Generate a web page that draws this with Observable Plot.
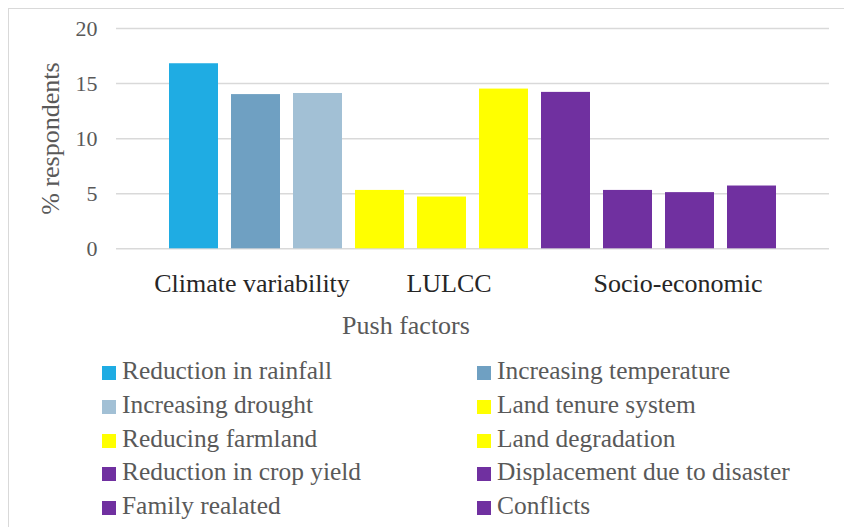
<!DOCTYPE html>
<html>
<head>
<meta charset="utf-8">
<script src="https://cdn.jsdelivr.net/npm/d3@7"></script>
<script src="https://cdn.jsdelivr.net/npm/@observablehq/plot@0.6"></script>
<style>
  html, body { margin: 0; padding: 0; background: #fff; overflow: hidden; }
  #frame {
    position: absolute; left: 8px; top: 8px; width: 900px; height: 600px;
    border-left: 1px solid #d9d9d9; border-top: 1px solid #d9d9d9;
    font-family: "Liberation Serif", "DejaVu Serif", serif;
  }
  #chart svg { display: block; }
  #legend-title {
    position: absolute; left: 0; top: 300px; width: 794px; height: 34px; line-height: 34px;
    text-align: center; font-size: 26px; color: #595959;
  }
  #legend {
    position: absolute; top: 344px; left: 0;
  }
  .item {
    position: absolute; height: 34px; line-height: 34px; font-size: 25.4px; color: #595959; white-space: nowrap;
  }
  .sw { display: inline-block; width: 14px; height: 14px; margin-right: 6px; vertical-align: -1px; }
</style>
</head>
<body>
<div id="frame">
  <div id="chart"></div>
  <div id="legend-title">Push factors</div>
  <div id="legend"></div>
</div>
<script>
const factors = [
  "Reduction in rainfall", "Increasing temperature", "Increasing drought",
  "Land tenure system", "Reducing farmland", "Land degradation",
  "Reduction in crop yield", "Displacement due to disaster", "Family realated", "Conflicts"
];
const values = [16.8, 14.0, 14.1, 5.3, 4.7, 14.5, 14.2, 5.3, 5.1, 5.7];
const colors = [
  "#1FACE3", "#6FA0C2", "#A2C0D5",
  "#FFFF00", "#FFFF00", "#FFFF00",
  "#7030A0", "#7030A0", "#7030A0", "#7030A0"
];
const groups = ["Climate variability", "LULCC", "Socio-economic"];
const groupAnchor = ["Increasing temperature", "Reducing farmland", "Family realated"];
const yTicks = [0, 5, 10, 15, 20];
const yTitle = "% respondents";
const legendTitle = "Push factors";

const data = factors.map((f, i) => ({factor: f, value: values[i], color: colors[i]}));

const groupMark = (i, dx) => Plot.text([groups[i]], {
  x: () => groupAnchor[i], frameAnchor: "bottom", dy: 35, dx,
  lineAnchor: "middle", textAnchor: "middle",
  fontSize: 26, fill: "#262626", fontFamily: "Liberation Serif"
});

const chart = Plot.plot({
  width: 835,
  height: 300,
  marginTop: 19,
  marginBottom: 60.7,
  marginLeft: 107,
  marginRight: 15,
  style: {fontFamily: "Liberation Serif, serif", background: "transparent"},
  x: {type: "band", domain: factors, paddingInner: 0.21, paddingOuter: 0.855, axis: null},
  y: {domain: [0, 20], ticks: yTicks, tickSize: 0, tickPadding: 19, label: null},
  marks: [
    Plot.gridY(yTicks, {stroke: "#d9d9d9", strokeOpacity: 1, strokeWidth: 1.5}),
    Plot.axisY(yTicks, {tickSize: 0, tickPadding: 19, fontSize: 22, color: "#595959", label: null}),
    Plot.barY(data, {x: "factor", y: "value", fill: "color"}),
    Plot.text([yTitle], {frameAnchor: "left", dx: -66, rotate: -90, fontSize: 26, fill: "#595959", textAnchor: "middle", lineAnchor: "middle"}),
    groupMark(0, -4),
    groupMark(1, 7),
    groupMark(2, -12)
  ]
});
document.getElementById("chart").appendChild(chart);

document.getElementById("legend-title").textContent = legendTitle;
const legend = document.getElementById("legend");
const colLeft = [93, 468];
factors.forEach((f, i) => {
  const row = Math.floor(i / 2), col = i % 2;
  const el = document.createElement("div");
  el.className = "item";
  el.style.left = colLeft[col] + "px";
  el.style.top = (row * 33.75) + "px";
  const sw = document.createElement("span");
  sw.className = "sw";
  sw.style.background = colors[i];
  el.appendChild(sw);
  el.appendChild(document.createTextNode(f));
  legend.appendChild(el);
});
</script>
</body>
</html>
